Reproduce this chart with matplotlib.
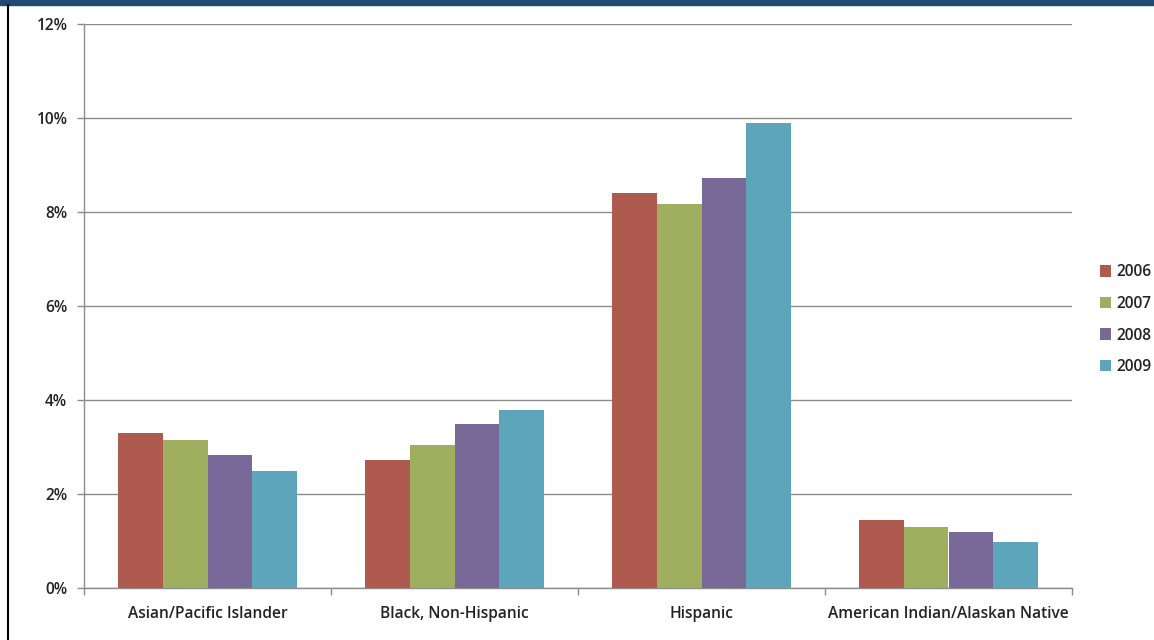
import matplotlib
matplotlib.use("Agg")
import matplotlib.pyplot as plt
import numpy as np
from matplotlib.ticker import FuncFormatter, FixedLocator

categories = ["Asian/Pacific Islander", "Black, Non-Hispanic", "Hispanic",
              "American Indian/Alaskan Native"]
years = ["2006", "2007", "2008", "2009"]
v2006 = [3.30, 2.72, 8.40, 1.45]
v2007 = [3.15, 3.04, 8.17, 1.30]
v2008 = [2.83, 3.49, 8.72, 1.19]
v2009 = [2.49, 3.79, 9.89, 0.98]
series = [v2006, v2007, v2008, v2009]
colors = ["#AE5A4F", "#9FAE5F", "#786999", "#5DA5BB"]

plt.rcParams['font.family'] = ['Open Sans', 'DejaVu Sans']

fig = plt.figure(figsize=(11.54, 6.40), dpi=100)
ax = fig.add_axes([84/1154, 52/640, (1072-84)/1154, (588-24)/640])

x = np.arange(len(categories))
bw = 0.182
for i, (vals, c, yr) in enumerate(zip(series, colors, years)):
    ax.bar(x + (i - 1.5) * bw, vals, width=bw, color=c, label=yr,
           edgecolor='none', zorder=3)

ax.set_xlim(-0.5, len(categories) - 0.5)
ax.set_ylim(0, 12)
ax.set_yticks(np.arange(0, 13, 2))
ax.yaxis.set_major_formatter(FuncFormatter(lambda v, p: f"{int(v)}%"))
ax.grid(axis='y', color='#8c8c8c', linewidth=1.0, zorder=0)
ax.set_xticks(x)
ax.set_xticklabels(categories)
ax.xaxis.set_minor_locator(FixedLocator(np.arange(-0.5, len(categories), 1.0)))
ax.tick_params(axis='x', which='major', length=0, pad=13, labelsize=11.2)
ax.tick_params(axis='x', which='minor', length=5, color='#8c8c8c', width=1)
ax.tick_params(axis='y', length=5, color='#8c8c8c', width=1, labelsize=11.2, pad=7)
for lbl in ax.get_xticklabels() + ax.get_yticklabels():
    lbl.set_fontweight('semibold')
    lbl.set_color('#222222')

for s in ['top', 'right']:
    ax.spines[s].set_visible(False)
for s in ['left', 'bottom']:
    ax.spines[s].set_color('#8c8c8c')
    ax.spines[s].set_linewidth(1.0)

leg = ax.legend(loc='center left', bbox_to_anchor=(1.014, 0.4755), frameon=False,
                handlelength=0.75, handleheight=0.75, handletextpad=0.3,
                labelspacing=1.0, prop={'size': 11.2, 'weight': 'semibold'})
for t in leg.get_texts():
    t.set_color('#222222')

# page decorations: top dark band and left border line
fig.patches.append(plt.Rectangle((0, 1 - 5/640), 1, 5/640, transform=fig.transFigure,
                                 color='#1F4A74', zorder=0))
fig.lines.append(plt.Line2D([8/1154, 8/1154], [0, 1 - 5/640], transform=fig.transFigure,
                            color='black', linewidth=1.5))

fig.savefig("out.png", dpi=100)
